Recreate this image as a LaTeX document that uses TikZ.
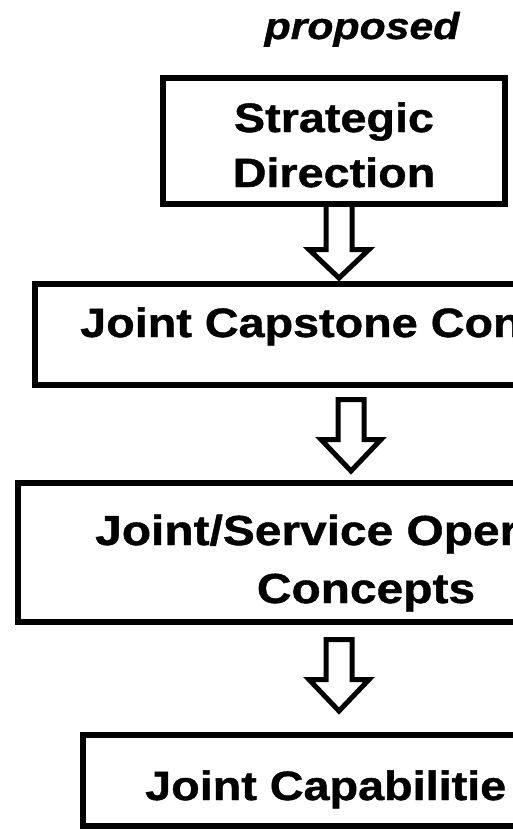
\documentclass[tikz,border=0pt]{standalone}
\usepackage{fontspec}
\newfontfamily\labelfont{Liberation Sans}[FakeStretch=1.14, FakeBold=1]
\usetikzlibrary{calc}

% hollow block arrow pointing down: #1 = top of shaft, #2 = tip, #3 = head length
\newcommand\flowarrow[3]{%
  \draw[blockarrow] let \p1=(#1), \p2=(#2) in
    (\x1-13pt,\y1) -- (\x1+13pt,\y1) -- (\x1+13pt,\y2+#3) -- (\x1+30pt,\y2+#3)
    -- (\x2,\y2) -- (\x1-30pt,\y2+#3) -- (\x1-13pt,\y2+#3) -- cycle;}

\begin{document}
\begin{tikzpicture}[x=1pt,y=-1pt,
  box/.style={draw=black, line width=6pt, rectangle, inner sep=0pt},
  boxtext/.style={inner sep=0pt, text=black,
    font=\labelfont\bfseries\fontsize{41}{55}\selectfont},
  bigtext/.style={boxtext, font=\labelfont\bfseries\fontsize{42}{58}\selectfont},
  tagtext/.style={inner sep=0pt, text=black,
    font=\labelfont\bfseries\itshape\fontsize{37.5}{44}\selectfont},
  blockarrow/.style={draw=black, line width=5pt, line join=miter}]

\useasboundingbox (0,0) rectangle (513,830);
\clip (0,0) rectangle (513,830);

% heading
\node[tagtext, anchor=base] (tag) at (362,39) {proposed};

% boxes of the chain
\node[box, minimum width=342pt, minimum height=126pt] (sd) at (334,141) {};
\node[box, minimum width=725pt, minimum height=101pt] (jcc) at (397.5,334.5) {};
\node[box, minimum width=722pt, minimum height=139pt] (jsoc) at (379,552.5) {};
\node[box, minimum width=597pt, minimum height=91pt] (jc) at (381.5,780.5) {};

% box texts
\node[boxtext, anchor=base] (sd1) at (334,132) {Strategic};
\node[boxtext, anchor=base] (sd2) at (334,187) {Direction};
\node[boxtext, anchor=base west] (jcct) at (80,337) {Joint Capstone Con};
\node[bigtext, anchor=base west] (jsoc1) at (95,545) {Joint/Service Oper};
\node[bigtext, anchor=base] (jsoc2) at (366,603) {Concepts};
\node[boxtext, anchor=base west] (jct) at (145,800) {Joint Capabilitie};

% arrow end points
\coordinate (a1top) at (339,204);
\coordinate (a1tip) at (339,278);
\coordinate (a2top) at (351,399.5);
\coordinate (a2tip) at (351,471);
\coordinate (a3top) at (339,639.5);
\coordinate (a3tip) at (339,711);

\flowarrow{a1top}{a1tip}{28.5pt}
\flowarrow{a2top}{a2tip}{31.5pt}
\flowarrow{a3top}{a3tip}{31.5pt}
\end{tikzpicture}
\end{document}
